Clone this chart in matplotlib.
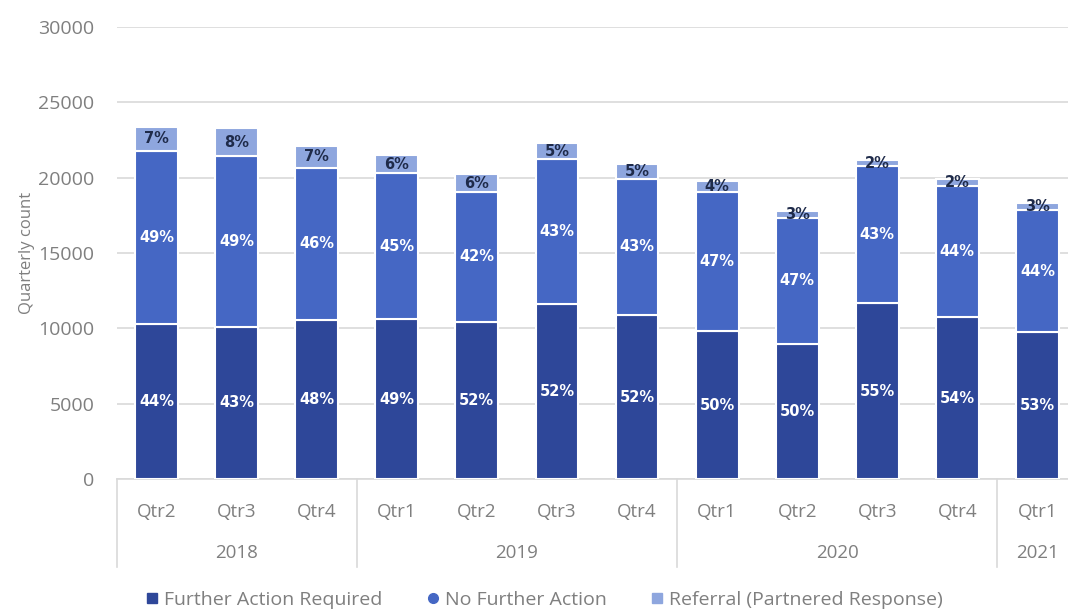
"""Quarterly outcome counts, stacked by outcome type, with share-of-total labels."""
import numpy as np
import matplotlib
matplotlib.use('Agg')
import matplotlib.pyplot as plt
from matplotlib.lines import Line2D

plt.rcParams['font.family'] = ['Open Sans', 'DejaVu Sans']

QUARTERS = ['Qtr2', 'Qtr3', 'Qtr4',
            'Qtr1', 'Qtr2', 'Qtr3', 'Qtr4',
            'Qtr1', 'Qtr2', 'Qtr3', 'Qtr4',
            'Qtr1']
YEARS = ['2018', '2019', '2020', '2021']
YEAR_SIZES = [3, 4, 4, 1]

further_action = [10294, 10115, 10559, 10605, 10446, 11600, 10910, 9841, 8968, 11666, 10738, 9744]
no_further_action = [11486, 11334, 10094, 9677, 8597, 9600, 8995, 9227, 8371, 9100, 8683, 8106]
referral = [1591, 1816, 1439, 1214, 1193, 1100, 974, 733, 464, 378, 484, 484]

SERIES = ['Further Action Required', 'No Further Action', 'Referral (Partnered Response)']
COLORS = ['#2E4799', '#4567C4', '#8EA6DE']
LABEL_COLORS = ['white', 'white', '#1F2B4A']
GREY = '#7F7F7F'

fig = plt.figure(figsize=(10.68, 6.09), dpi=100)
ax = fig.add_axes([116.5/1068, 129.7/609, 961/1068, 452.6/609])

x = np.arange(len(QUARTERS))
data = [np.array(further_action), np.array(no_further_action), np.array(referral)]
total = sum(data)
bottom = np.zeros(len(x))
for vals, col, lcol in zip(data, COLORS, LABEL_COLORS):
    ax.bar(x, vals, 0.535, bottom=bottom, color=col, edgecolor='white', linewidth=1.5, zorder=3)
    for xi, b, v, t in zip(x, bottom, vals, total):
        ax.text(xi, b + v/2, f'{100*v/t:.0f}%', ha='center', va='center', family='DejaVu Sans',
                color=lcol, fontsize=10.5, fontweight='bold', zorder=4)
    bottom = bottom + vals

ax.set_xlim(-0.5, len(x) - 0.5)
ax.set_ylim(0, 30000)
ax.set_yticks(np.arange(0, 30001, 5000))
ax.grid(axis='y', color='#D9D9D9', lw=1.2, zorder=0)
ax.set_axisbelow(True)
for s in ['top', 'right', 'left']:
    ax.spines[s].set_visible(False)
ax.spines['bottom'].set_color('#D9D9D9')
ax.spines['bottom'].set_linewidth(1.2)
ax.tick_params(axis='y', length=0, pad=16, labelsize=14, labelcolor=GREY)
ax.tick_params(axis='x', length=0, pad=17, labelsize=13.5, labelcolor=GREY)
ax.set_xticks(x)
ax.set_xticklabels(QUARTERS)
ax.set_ylabel('Quarterly count', fontsize=12, color=GREY, labelpad=2)

# year groups under the quarter labels, with separators between them
trans = ax.get_xaxis_transform()
edges = np.concatenate([[0], np.cumsum(YEAR_SIZES)]) - 0.5
for e in edges:
    ax.plot([e, e], [0, -0.193], transform=trans, color='#D9D9D9', lw=1.2, clip_on=False)
for yr, a, b in zip(YEARS, edges[:-1], edges[1:]):
    ax.text((a + b)/2, -0.163, yr, transform=trans, ha='center', va='center',
            fontsize=13.5, color=GREY)

handles = [Line2D([], [], ls='none', marker=m, markersize=7, color=c)
           for m, c in zip(['s', 'o', 's'], COLORS)]
fig.legend(handles, SERIES, loc='center', bbox_to_anchor=(0.509, 0.015), ncol=3,
           frameon=False, fontsize=14, labelcolor=GREY, handletextpad=0.2,
           columnspacing=2.2, handlelength=0.8)

fig.savefig('out.png', dpi=100)
